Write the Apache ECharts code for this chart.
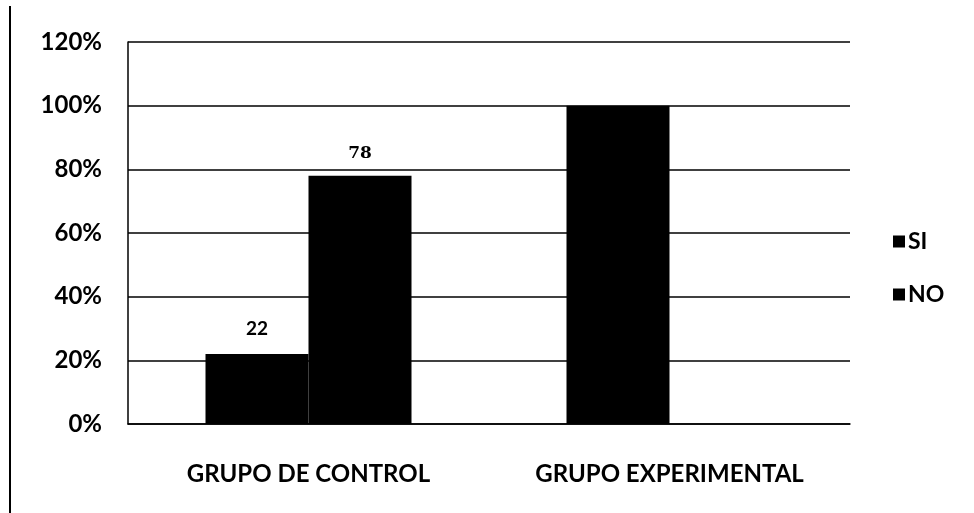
<!DOCTYPE html>
<html>
<head>
<meta charset="utf-8">
<script src="https://cdn.jsdelivr.net/npm/echarts@6/dist/echarts.min.js"></script>
<style>
html, body { margin: 0; padding: 0; background: #fff; }
#chart { width: 974px; height: 513px; }
</style>
</head>
<body>
<div id="chart"></div>
<script>
var categories = ['GRUPO DE CONTROL', 'GRUPO EXPERIMENTAL']
var siValues = [22, 100]
var noValues = [78, 0]
var yTicks = [0, 20, 40, 60, 80, 100, 120]

var chart = echarts.init(document.getElementById('chart'))

// etiqueta solo en el grupo de control
function labelFor(p) {
    return p.dataIndex === 0 ? String(p.value) : ''
}

chart.setOption({
    animation: false,
    backgroundColor: '#fff',
    textStyle: { fontFamily: 'Lato', color: '#000' },
    graphic: [{
        type: 'line',
        shape: { x1: 10, y1: 6, x2: 10, y2: 513 },
        style: { stroke: '#000', lineWidth: 2 }
    }],
    grid: { left: 128, right: 124, top: 42, bottom: 89 },
    legend: {
        orient: 'vertical',
        left: 888,
        top: 225,
        itemGap: 30,
        itemWidth: 12,
        itemHeight: 12,
        icon: 'rect',
        data: ['SI', 'NO'],
        textStyle: { fontFamily: 'Lato', fontWeight: 'bold', fontSize: 23, color: '#000', padding: [0, 0, 0, -2] }
    },
    xAxis: {
        type: 'category',
        data: categories,
        axisLine: { lineStyle: { color: '#000', width: 1.5 } },
        axisTick: { show: false },
        axisLabel: { margin: 38, fontFamily: 'Lato', fontWeight: 'bold', fontSize: 24, color: '#000' }
    },
    yAxis: {
        type: 'value',
        min: yTicks[0],
        max: yTicks[yTicks.length - 1],
        interval: 20,
        axisLine: { show: true, lineStyle: { color: '#000', width: 1.5 } },
        axisTick: { show: false },
        splitLine: { lineStyle: { color: '#000', width: 1.5 } },
        axisLabel: { margin: 26, formatter: '{value}%', fontFamily: 'Lato', fontWeight: 'bold', fontSize: 24, color: '#000' }
    },
    series: [{
        name: 'SI',
        type: 'bar',
        data: siValues,
        barWidth: 103,
        barGap: '0%',
        itemStyle: { color: '#000' },
        label: {
            show: true, position: 'top', distance: 16, formatter: labelFor,
            fontFamily: 'Lato', fontWeight: 'bold', fontSize: 19, color: '#000'
        }
    }, {
        name: 'NO',
        type: 'bar',
        data: noValues,
        barWidth: 103,
        barGap: '0%',
        itemStyle: { color: '#000' },
        label: {
            show: true, position: 'top', distance: 14, formatter: labelFor,
            fontFamily: 'DejaVu Serif', fontWeight: 'bold', fontSize: 17, color: '#000'
        }
    }]
})
</script>
</body>
</html>
